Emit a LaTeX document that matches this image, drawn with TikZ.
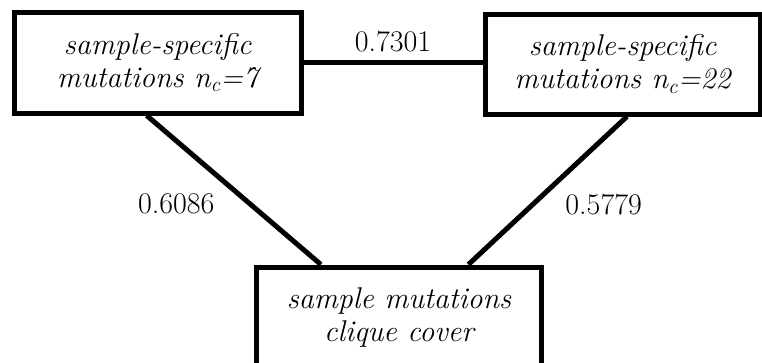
\documentclass[tikz,border=0pt]{standalone}
\usepackage{fix-cm}
\usetikzlibrary{calc}
\begin{document}
\begin{tikzpicture}[x=1pt,y=-1pt,
  box/.style={draw=black, line width=5pt, fill=white, align=center, inner sep=0pt,
    font=\fontsize{30}{33}\selectfont\itshape},
  conn/.style={draw=black, line width=5pt},
  lbl/.style={font=\fontsize{30}{33}\selectfont, inner sep=0pt}]
\useasboundingbox (0,0) rectangle (762,362);
\clip (0,0) rectangle (762,362);
\node[box, minimum width=287pt, minimum height=101pt] (b1) at (157.5,62.5)
  {sample-specific\\mutations n\textsubscript{c}=7};
\node[box, minimum width=275pt, minimum height=100pt] (b2) at (622.5,64)
  {sample-specific\\mutations n\textsubscript{c}=22};
\node[box, minimum width=285.5pt, minimum height=101pt] (b3) at (399,317.5)
  {sample mutations\\clique cover};
\draw[conn] (b1.east) -- (b1.east -| b2.west)
  node[lbl, midway, yshift=20.5pt] {0.7301};
\draw[conn] ($(b1.south west)!0.463!(b1.south east)$) -- ($(b3.north west)!0.231!(b3.north east)$)
  node[lbl, pos=0.595, xshift=-74pt] {0.6086};
\draw[conn] ($(b2.south west)!0.516!(b2.south east)$) -- ($(b3.north west)!0.739!(b3.north east)$)
  node[lbl, pos=0.595, xshift=71pt] {0.5779};
\end{tikzpicture}
\end{document}
